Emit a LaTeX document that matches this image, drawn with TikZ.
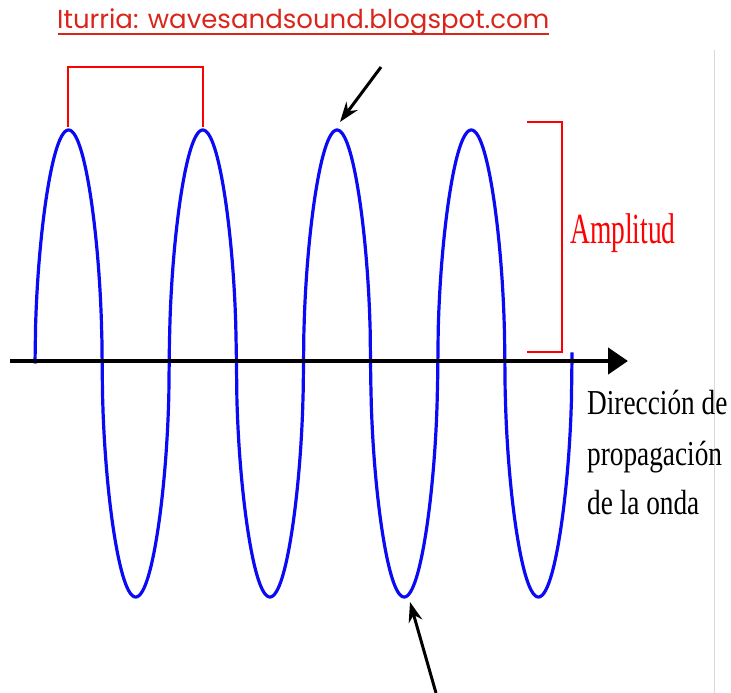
\documentclass[tikz,border=0pt]{standalone}
\usepackage{fontspec}
\setmainfont{Liberation Serif}
\newfontfamily\titlefont{Poppins}
\usetikzlibrary{arrows.meta}
\definecolor{titlered}{HTML}{D9261C}
\definecolor{wblue}{HTML}{0A0AF5}
\tikzset{
  wave/.style={wblue, line width=3.2pt, line join=round},
  redbr/.style={red, line width=2.5pt},
  blkarrow/.style={black, line width=3pt, -{Stealth[length=20pt,width=14pt]}},
  lbl/.style={inner sep=0pt, anchor=base west, font=\fontsize{35}{40}\selectfont, xscale=0.78},
}
\begin{document}
\begin{tikzpicture}[x=1pt,y=-1pt]
\useasboundingbox (0,0) rectangle (731,693);
% title
\node[inner sep=0pt, anchor=base west, text=titlered, font=\titlefont\fontsize{26}{30}\selectfont] (title) at (57,29) {Iturria: wavesandsound.blogspot.com};
\draw[titlered, line width=2.5pt] (58,34) -- (549,34);
% gray frame line
\draw[black!15, line width=1pt] (714,50) -- (714,693);
% wave
\draw[wave] plot[domain=35:572.05, samples=900]
  (\x, {363.5 - 233.5*sin(2.6816*(\x-35))/sqrt(abs(sin(2.6816*(\x-35)))+0.0002)});
% axis
\coordinate (axs) at (10,361);
\coordinate (axe) at (628,361);
\draw[black, line width=4.5pt, -{Triangle[length=20pt,width=26pt]}] (axs) -- (axe);
% wavelength bracket
\draw[red, line width=2pt] (68,127) -- (68,67) -- (203,67) -- (203,127);
% amplitude bracket
\draw[redbr] (527,122) -- (562,122) -- (562,352) -- (527,352);
\node[inner sep=0pt, anchor=base west, text=red, font=\fontsize{43}{48}\selectfont, xscale=0.64] (amp) at (570,243) {Amplitud};
% direction text
\node[lbl] (d1) at (587,414) {Dirección de};
\node[lbl] (d2) at (587,465) {propagación};
\node[lbl] (d3) at (587,514) {de la onda};
% arrows
\coordinate (c1s) at (381,67);
\coordinate (c1e) at (340,122);
\draw[blkarrow] (c1s) -- (c1e);
\coordinate (c2s) at (436,693);
\coordinate (c2e) at (410,602);
\draw[blkarrow] (c2s) -- (c2e);
\end{tikzpicture}
\end{document}
